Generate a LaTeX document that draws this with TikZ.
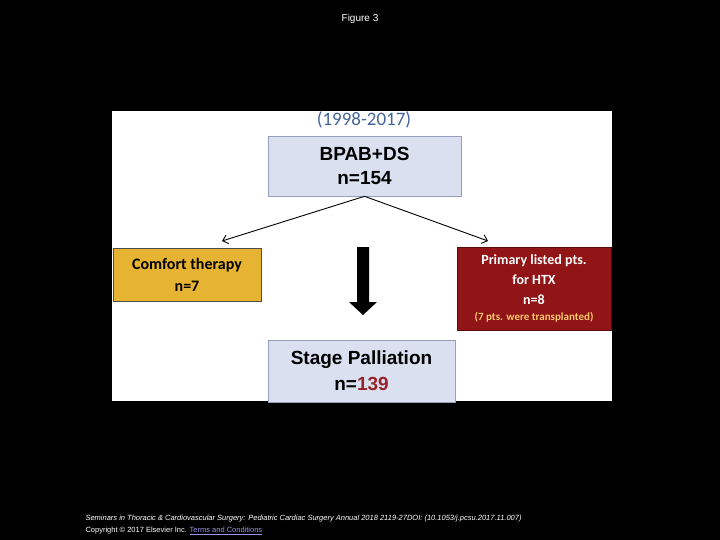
\documentclass[tikz,border=0pt]{standalone}
\usepackage{fontspec}
\setmainfont{Liberation Sans}
\newfontfamily\calib{Carlito}
\usetikzlibrary{arrows.meta}
\definecolor{boxblue}{RGB}{218,224,240}
\definecolor{boxedge}{RGB}{150,160,190}
\definecolor{gold}{RGB}{230,180,50}
\definecolor{darkred}{RGB}{145,20,22}
\definecolor{yearblue}{RGB}{70,100,150}
\definecolor{numred}{RGB}{150,35,40}
\definecolor{orangetxt}{RGB}{250,200,110}
\definecolor{linkblue}{RGB}{150,150,230}
\begin{document}
\begin{tikzpicture}[x=1pt,y=-1pt,
  box/.style={draw=boxedge,line width=0.6pt,inner sep=0pt,align=center},
  conn/.style={-{Straight Barb[length=5pt,width=9pt]},line width=0.9pt}]
\useasboundingbox (0,0) rectangle (720,540);
\fill[black] (0,0) rectangle (720,540);
\node[white,font=\fontsize{10}{12}\selectfont] (title) at (360,19) {Figure 3};
\fill[white] (112,111) rectangle (612,401);
\node[text=yearblue,font=\calib\fontsize{19}{22}\selectfont] (year) at (364,120) {(1998-2017)};
\node[box,fill=boxblue,minimum width=193pt,minimum height=60pt,font=\bfseries\fontsize{19}{24}\selectfont] (top) at (364.5,166) {BPAB+DS\\n=154};
\node[box,draw=black!70,fill=gold,minimum width=148pt,minimum height=53pt,font=\calib\bfseries\fontsize{16}{22}\selectfont] (comfort) at (187,274.5) {Comfort therapy\\n=7};
\node[box,draw=darkred!60!black,fill=darkred,text=white,minimum width=154pt,minimum height=83pt,font=\calib\bfseries\fontsize{14}{20}\selectfont] (red) at (534,288.5) {Primary listed pts.\\for HTX\\n=8\\[-4pt]{\color{orangetxt}\fontsize{11}{13}\selectfont (7 pts. were transplanted)}};
\node[box,fill=boxblue,minimum width=187pt,minimum height=62pt,font=\bfseries\fontsize{19}{26}\selectfont] (stage) at (361.5,371) {Stage Palliation\\n={\color{numred}139}};
\coordinate (lt) at (222,241);
\coordinate (rt) at (488,241);
\draw[conn] (top.south) -- (lt);
\draw[conn] (top.south) -- (rt);
\coordinate (dtop) at (363,247);
\coordinate (dbot) at (363,315);
\fill[black] (357,247) -- (369,247) -- (369,302) -- (377,302) -- (dbot) -- (349,302) -- (357,302) -- cycle;
\node[white,anchor=west,font=\itshape\fontsize{7.5}{9}\selectfont] (cite) at (82,519) {Seminars in Thoracic \& Cardiovascular Surgery: Pediatric Cardiac Surgery Annual 2018 2119-27DOI: (10.1053/j.pcsu.2017.11.007)};
\node[white,anchor=west,font=\fontsize{7.5}{9}\selectfont] (copy) at (82,531) {Copyright © 2017 Elsevier Inc. \textcolor{linkblue}{\underline{Terms and Conditions}}};
\end{tikzpicture}
\end{document}
